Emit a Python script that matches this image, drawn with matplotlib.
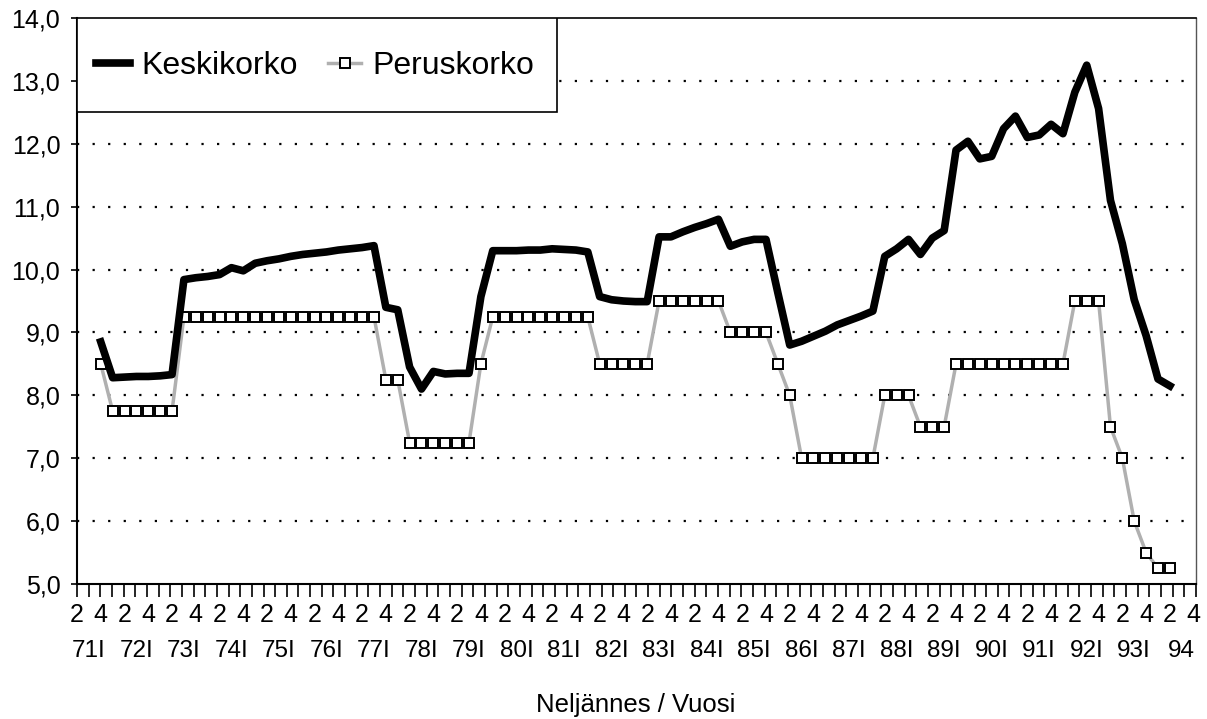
import numpy as np
import matplotlib.pyplot as plt
import matplotlib.transforms as mtransforms
from matplotlib.patches import Rectangle

plt.rcParams['font.family'] = ['Liberation Sans', 'DejaVu Sans']

# quarterly values, 71Q4 .. 94Q2
keskikorko = [8.85, 8.28, 8.29, 8.30, 8.30, 8.31, 8.33, 9.84, 9.87, 9.89,
              9.92, 10.03, 9.98, 10.10, 10.14, 10.17, 10.21, 10.24, 10.26, 10.28,
              10.31, 10.33, 10.35, 10.38, 9.40, 9.36, 8.45, 8.10, 8.38, 8.34,
              8.35, 8.35, 9.57, 10.30, 10.30, 10.30, 10.31, 10.31, 10.33, 10.32,
              10.31, 10.28, 9.57, 9.52, 9.50, 9.49, 9.49, 10.52, 10.52, 10.60,
              10.67, 10.73, 10.80, 10.37, 10.44, 10.48, 10.48, 9.63, 8.80, 8.86,
              8.94, 9.02, 9.12, 9.19, 9.26, 9.34, 10.21, 10.33, 10.48, 10.24,
              10.50, 10.62, 11.90, 12.04, 11.76, 11.80, 12.24, 12.44, 12.10, 12.14,
              12.31, 12.16, 12.82, 13.25, 12.56, 11.10, 10.41, 9.52, 8.95, 8.26,
              8.15]
peruskorko = [8.5, 7.75, 7.75, 7.75, 7.75, 7.75, 7.75, 9.25, 9.25, 9.25,
              9.25, 9.25, 9.25, 9.25, 9.25, 9.25, 9.25, 9.25, 9.25, 9.25,
              9.25, 9.25, 9.25, 9.25, 8.25, 8.25, 7.25, 7.25, 7.25, 7.25,
              7.25, 7.25, 8.5, 9.25, 9.25, 9.25, 9.25, 9.25, 9.25, 9.25,
              9.25, 9.25, 8.5, 8.5, 8.5, 8.5, 8.5, 9.5, 9.5, 9.5,
              9.5, 9.5, 9.5, 9.0, 9.0, 9.0, 9.0, 8.5, 8.0, 7.0,
              7.0, 7.0, 7.0, 7.0, 7.0, 7.0, 8.0, 8.0, 8.0, 7.5,
              7.5, 7.5, 8.5, 8.5, 8.5, 8.5, 8.5, 8.5, 8.5, 8.5,
              8.5, 8.5, 9.5, 9.5, 9.5, 7.5, 7.0, 6.0, 5.5, 5.25,
              5.25]
years = ["71", "72", "73", "74", "75", "76", "77", "78", "79", "80", "81", "82",
         "83", "84", "85", "86", "87", "88", "89", "90", "91", "92", "93", "94"]
quarter_labels = ["2", "4"] * len(years)
y_labels = ["5,0", "6,0", "7,0", "8,0", "9,0", "10,0", "11,0", "12,0", "13,0", "14,0"]

fig = plt.figure(figsize=(12.07, 7.19), dpi=100)
ax = fig.add_axes([77 / 1207, 1 - 584 / 719, (1196 - 77) / 1207, (584 - 18) / 719])

x = np.arange(len(keskikorko))
p_line, = ax.plot(x, peruskorko, color='#b0b0b0', lw=2.5, marker='s', ms=6.5,
                  mfc='white', mec='black', mew=1.4, zorder=3, label='Peruskorko')
k_line, = ax.plot(x, keskikorko, color='black', lw=5.5, zorder=4, label='Keskikorko')

x0, x1 = -2.0, 92.2
ax.set_xlim(x0, x1)
ax.set_ylim(5, 14)

# dotted grid
for v in range(6, 14):
    ax.axhline(v, color='black', lw=1.6, linestyle=(0, (1, 6)), zorder=1)

ax.set_yticks(range(5, 15))
ax.set_yticklabels(y_labels, fontsize=18)
ax.tick_params(axis='y', direction='out', length=4, width=1.2, pad=8)

ax.set_xticks([])
ax.set_xticks(np.linspace(x0, x1, 97), minor=True)
ax.tick_params(axis='x', which='minor', direction='out', length=9, width=1.2)

trans = mtransforms.blended_transform_factory(ax.transData, ax.transAxes)
for i, lab in enumerate(quarter_labels):
    ax.text(-2 + 2 * i, -0.054, lab, transform=trans, ha='center', va='center',
            fontsize=18, clip_on=False)
for k, yr in enumerate(years):
    txt = yr + ("I" if k < len(years) - 1 else "")
    ax.text(-1 + 4 * k, -0.119, txt, transform=trans, ha='center', va='center',
            fontsize=17.5, clip_on=False)

fig.text(636 / 1207, 1 - 705 / 719, "Neljännes / Vuosi", ha='center', va='center',
         fontsize=18.5)

for s in ['left', 'bottom']:
    ax.spines[s].set_linewidth(1.5)
ax.spines['top'].set_linewidth(1.2)
ax.spines['right'].set_linewidth(1.0)
ax.spines['right'].set_color('#555555')

# legend box drawn separately so its height can match
box = Rectangle((0, 0.834), 0.429, 0.166, transform=ax.transAxes, facecolor='white',
                edgecolor='black', lw=1.2, zorder=5)
ax.add_patch(box)
leg = ax.legend(handles=[k_line, p_line], loc='center left', bbox_to_anchor=(0, 0.915),
                borderaxespad=0, ncol=2, fontsize=23, frameon=False,
                handlelength=1.05, handletextpad=0.35,
                columnspacing=0.95, borderpad=0.6, numpoints=1)
leg.set_zorder(6)

fig.savefig('out.png', dpi=100)
